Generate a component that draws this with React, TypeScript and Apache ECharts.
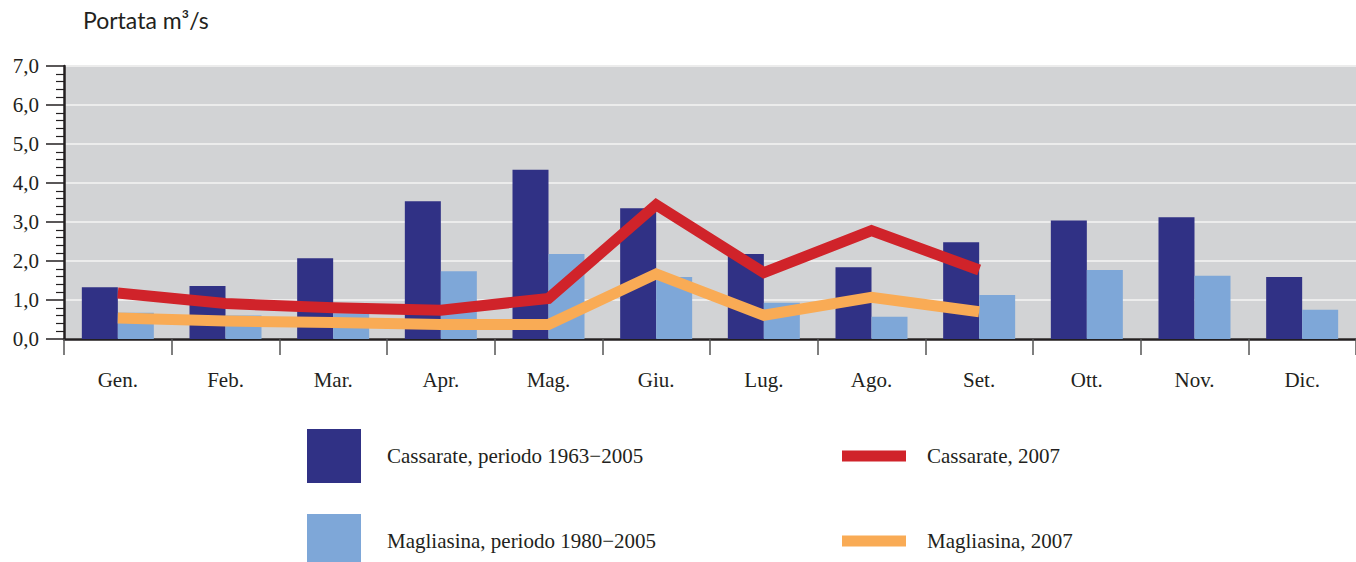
import React, { useEffect, useRef } from "react";
import * as echarts from "echarts";

const months = ["Gen.", "Feb.", "Mar.", "Apr.", "Mag.", "Giu.", "Lug.", "Ago.", "Set.", "Ott.", "Nov.", "Dic."];
const cassarateAvg = [1.33, 1.36, 2.07, 3.53, 4.34, 3.35, 2.18, 1.84, 2.48, 3.04, 3.12, 1.59];
const magliasinaAvg = [0.67, 0.6, 0.66, 1.74, 2.18, 1.59, 0.93, 0.57, 1.13, 1.77, 1.62, 0.75];
const cassarate2007 = [1.18, 0.91, 0.8, 0.74, 1.04, 3.44, 1.7, 2.78, 1.77, null, null, null];
const magliasina2007 = [0.54, 0.46, 0.42, 0.37, 0.37, 1.67, 0.61, 1.07, 0.7, null, null, null];
const seriesNames = [
  "Cassarate, periodo 1963\u22122005",
  "Magliasina, periodo 1980\u22122005",
  "Cassarate, 2007",
  "Magliasina, 2007",
];

const SERIF = "'Liberation Serif', 'DejaVu Serif', serif";
const TEXT = "#231f20";

export default function App() {
  const ref = useRef<HTMLDivElement>(null);
  useEffect(() => {
    if (!ref.current) return;
    const chart = echarts.init(ref.current, null, { renderer: "svg" });
    chart.setOption({
      animation: false,
      backgroundColor: "#ffffff",
      title: {
        text: "Portata m\u00b3/s",
        left: 83,
        top: 8,
        padding: 0,
        textStyle: { fontFamily: "Lato", fontSize: 23, fontWeight: "normal", color: TEXT },
      },
      legend: [
        {
          data: [seriesNames[0], seriesNames[1]],
          orient: "vertical",
          left: 307,
          top: 429,
          height: 200,
          width: 450,
          padding: 0,
          itemWidth: 54,
          itemHeight: 54,
          itemGap: 31,
          icon: "rect",
          textStyle: { fontFamily: SERIF, fontSize: 21, color: TEXT, lineHeight: 46, padding: [8, 0, 0, 21] },
        },
        {
          data: [seriesNames[2], seriesNames[3]],
          orient: "vertical",
          left: 842,
          top: 429,
          height: 200,
          width: 450,
          padding: 0,
          itemWidth: 64,
          itemHeight: 11,
          itemGap: 31,
          icon: "rect",
          itemStyle: { borderWidth: 0 },
          textStyle: { fontFamily: SERIF, fontSize: 21, color: TEXT, lineHeight: 46, padding: [8, 0, 0, 16] },
        },
      ],
      grid: {
        left: 64,
        top: 66,
        width: 1297,
        height: 273,
        show: true,
        backgroundColor: "#d2d3d5",
        borderWidth: 0,
      },
      xAxis: {
        type: "category",
        data: months,
        axisLine: { lineStyle: { color: TEXT, width: 2.5 } },
        axisTick: { show: true, length: 16, interval: 0, lineStyle: { color: "#555", width: 1.5 } },
        axisLabel: { fontFamily: SERIF, fontSize: 21, color: TEXT, margin: 30, interval: 0 },
        splitLine: { show: false },
      },
      yAxis: {
        type: "value",
        min: 0,
        max: 7,
        interval: 1,
        axisLine: { show: true, lineStyle: { color: TEXT, width: 2.5 } },
        axisTick: { show: true, length: 18, lineStyle: { color: TEXT, width: 1.5 } },
        minorTick: { show: true, splitNumber: 5, length: 8, lineStyle: { color: TEXT, width: 1.2 } },
        axisLabel: {
          fontFamily: SERIF,
          fontSize: 21,
          color: TEXT,
          margin: 25,
          formatter: (v: number) => v.toFixed(1).replace(".", ","),
        },
        splitLine: { show: true, lineStyle: { color: "#ececec", width: 2 } },
      },
      series: [
        {
          name: seriesNames[0],
          type: "bar",
          data: cassarateAvg,
          barWidth: 36,
          barGap: "0%",
          itemStyle: { color: "#303185" },
        },
        {
          name: seriesNames[1],
          type: "bar",
          data: magliasinaAvg,
          barWidth: 36,
          barGap: "0%",
          itemStyle: { color: "#7ea7d8" },
        },
        {
          name: seriesNames[2],
          type: "line",
          data: cassarate2007,
          symbol: "none",
          color: "#d0232a",
          lineStyle: { color: "#d0232a", width: 11, cap: "butt", join: "miter" },
          z: 3,
        },
        {
          name: seriesNames[3],
          type: "line",
          data: magliasina2007,
          symbol: "none",
          color: "#f9ab55",
          lineStyle: { color: "#f9ab55", width: 11, cap: "butt", join: "miter" },
          z: 3,
        },
      ],
    });
    return () => chart.dispose();
  }, []);
  return (
    <div
      ref={ref}
      style={{ position: "absolute", left: 0, top: 0, width: 1356, height: 562 }}
    />
  );
}
